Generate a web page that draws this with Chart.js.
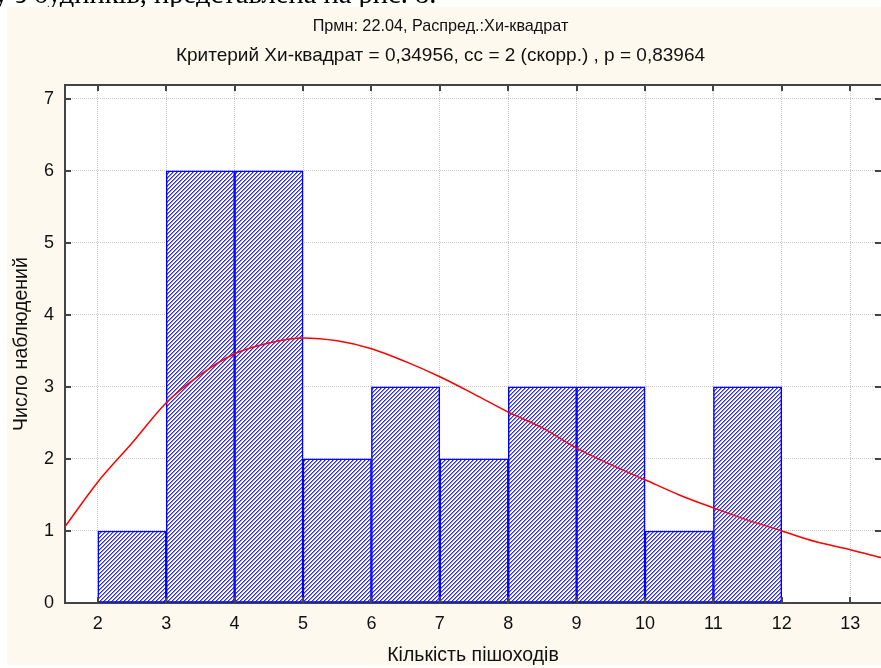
<!DOCTYPE html>
<html>
<head>
<meta charset="utf-8">
<script src="https://cdn.jsdelivr.net/npm/chart.js@4.4.0/dist/chart.umd.min.js"></script>
<style>
  html, body { margin: 0; padding: 0; background: #fff; }
  canvas { display: block; }
</style>
</head>
<body>
<canvas id="histChart" width="881" height="668"></canvas>
<script>
// Histogram bins (left edge) and counts
const binStarts = [2, 3, 4, 5, 6, 7, 8, 9, 10, 11];
const counts = [1, 6, 6, 2, 3, 2, 3, 3, 1, 3];

// Fitted chi-square curve
const curveX = [1.52, 2, 2.5, 3, 3.5, 4, 4.5, 5, 5.5, 6, 6.5, 7, 7.5, 8, 8.5, 9, 9.5, 10, 10.5, 11, 11.5, 12, 12.5, 13, 13.45];
const curveY = [1.06, 1.68, 2.22, 2.78, 3.17, 3.46, 3.61, 3.68, 3.64, 3.53, 3.35, 3.14, 2.90, 2.65, 2.43, 2.15, 1.92, 1.71, 1.50, 1.32, 1.15, 1.00, 0.85, 0.74, 0.63];

// Tick labels
const xTicks = [2, 3, 4, 5, 6, 7, 8, 9, 10, 11, 12, 13];
const yTicks = [0, 1, 2, 3, 4, 5, 6, 7];

const titleText = 'Прмн: 22.04, Распред.:Хи-квадрат';
const subtitleText = 'Критерий Хи-квадрат = 0,34956, сс = 2 (скорр.) , р = 0,83964';
const xTitle = 'Кількість пішоходів';
const yTitle = 'Число наблюдений';
const pageText = 'у з будинків, представлена на рис. 8.';

// diagonal blue hatching
function makeHatch() {
  const c = document.createElement('canvas');
  c.width = 4; c.height = 4;
  const g = c.getContext('2d');
  g.fillStyle = '#ffffff';
  g.fillRect(0, 0, 4, 4);
  for (let y = 0; y < 4; y++) {
    for (let x = 0; x < 4; x++) {
      const k = (x + y) % 4;
      if (k === 0) { g.fillStyle = '#2a2aff'; g.fillRect(x, y, 1, 1); }
      if (k === 1) { g.fillStyle = '#8c8cff'; g.fillRect(x, y, 1, 1); }
    }
  }
  return g.createPattern(c, 'repeat');
}

// background, page text, frame and inward tick marks
const frame = {
  id: 'frame',
  beforeDraw(chart) {
    const {ctx, chartArea: a} = chart;
    ctx.save();
    ctx.fillStyle = '#ffffff';
    ctx.fillRect(0, 0, chart.width, chart.height);
    ctx.fillStyle = '#000';
    ctx.font = '28.5px "Liberation Serif"';
    ctx.textBaseline = 'alphabetic';
    ctx.fillText(pageText, -6, 3);
    ctx.fillStyle = '#fdf9ef';
    ctx.fillRect(7, 7, chart.width - 7, 658);
    ctx.fillStyle = '#ffffff';
    ctx.fillRect(a.left, a.top, a.right - a.left, a.bottom - a.top);
    ctx.restore();
  },
  afterDraw(chart) {
    const {ctx, chartArea: a, scales} = chart;
    ctx.save();
    ctx.strokeStyle = '#444';
    ctx.lineWidth = 2;
    ctx.beginPath();
    ctx.moveTo(a.left, a.top);
    ctx.lineTo(a.right, a.top);
    xTicks.forEach(v => {
      const px = Math.round(scales.x.getPixelForValue(v));
      ctx.moveTo(px, a.bottom); ctx.lineTo(px, a.bottom - 6);
      ctx.moveTo(px, a.top); ctx.lineTo(px, a.top + 6);
    });
    yTicks.forEach(v => {
      const py = Math.round(scales.y.getPixelForValue(v));
      ctx.moveTo(a.left, py); ctx.lineTo(a.left + 6, py);
      ctx.moveTo(a.right, py); ctx.lineTo(a.right - 6, py);
    });
    ctx.stroke();
    ctx.restore();
  }
};

const font = {family: '"Liberation Sans", Arial, sans-serif'};

const ctx = document.getElementById('histChart').getContext('2d');
const histChart = new Chart(ctx, {
  type: 'bar',
  data: {
    datasets: [{
      type: 'line',
      data: curveX.map((x, i) => ({x: x, y: curveY[i]})),
      borderColor: '#ff0000',
      borderWidth: 1.5,
      pointRadius: 0,
      tension: 0.4,
      cubicInterpolationMode: 'monotone'
    }, {
      type: 'bar',
      data: binStarts.map((b, i) => ({x: b + 0.5, y: counts[i]})),
      backgroundColor: makeHatch(),
      borderColor: '#0000ff',
      borderWidth: 1.5,
      borderSkipped: false,
      barPercentage: 1,
      categoryPercentage: 1
    }]
  },
  options: {
    responsive: false,
    animation: false,
    devicePixelRatio: 1,
    layout: { padding: 0 },
    plugins: {
      legend: { display: false },
      tooltip: { enabled: false },
      title: {
        display: true,
        text: titleText,
        color: '#111',
        font: { ...font, size: 16.2, weight: 'normal', lineHeight: '20px' },
        padding: { top: 17, bottom: 0 }
      },
      subtitle: {
        display: true,
        text: subtitleText,
        color: '#111',
        font: { ...font, size: 19, weight: 'normal', lineHeight: '22px' },
        padding: { top: 8, bottom: 18 }
      }
    },
    scales: {
      x: {
        type: 'linear',
        min: 1.52,
        max: 13.45,
        offset: false,
        afterBuildTicks: s => { s.ticks = xTicks.map(v => ({value: v})); },
        afterFit: s => { s.height = 65; },
        ticks: { padding: 10, color: '#111', font: { ...font, size: 18 }, maxRotation: 0, autoSkip: false },
        grid: { color: '#c8c8c8', offset: false, drawTicks: false },
        border: { color: '#444', width: 2, dash: [1, 1] },
        title: { display: true, text: xTitle, color: '#111', font: { ...font, size: 19.5 }, padding: { top: 0, bottom: 0.5 } }
      },
      y: {
        min: 0,
        max: 7.19,
        afterBuildTicks: s => { s.ticks = yTicks.map(v => ({value: v})); },
        afterFit: s => { s.width = 65; },
        ticks: { padding: 11, color: '#111', font: { ...font, size: 18 } },
        grid: { color: '#c8c8c8', drawTicks: false },
        border: { color: '#444', width: 2, dash: [1, 1] },
        title: { display: true, text: yTitle, color: '#111', font: { ...font, size: 19.5 }, padding: { top: 10, bottom: 0 } }
      }
    }
  },
  plugins: [frame]
});
</script>
</body>
</html>
